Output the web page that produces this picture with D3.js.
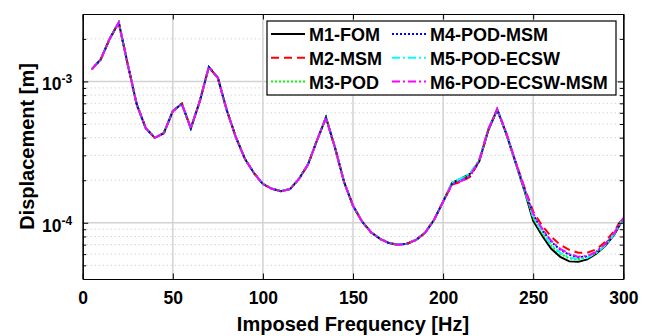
<!DOCTYPE html>
<html>
<head>
<meta charset="utf-8">
<script src="https://cdn.jsdelivr.net/npm/d3@7"></script>
<style>
body { margin: 0; background: #fff; }
svg text { font-family: "Liberation Sans", Arial, Helvetica, sans-serif; font-weight: bold; fill: #000; }
</style>
</head>
<body>
<svg id="chart" width="653" height="336"></svg>
<script>
// imposed frequency [Hz]
const freq = [5, 10, 15, 20, 25, 30, 35, 40, 45, 50,
              55, 60, 65, 70, 75, 80, 85, 90, 95, 100,
              105, 110, 115, 120, 125, 130, 135, 140, 145, 150,
              155, 160, 165, 170, 175, 180, 185, 190, 195, 200,
              205, 210, 215, 220, 225, 230, 235, 240, 245, 250,
              255, 260, 265, 270, 275, 280, 285, 290, 295, 300];

// displacement [m] for each model
const m1_fom = [1.216e-3, 1.432e-3, 2.008e-3, 2.609e-3, 1.32e-3, 6.87e-4, 4.66e-4, 3.99e-4, 4.30e-4, 6.16e-4,
                6.95e-4, 4.66e-4, 7.25e-4, 1.263e-3, 1.062e-3, 6.23e-4, 4.03e-4, 2.84e-4, 2.25e-4, 1.88e-4,
                1.74e-4, 1.67e-4, 1.73e-4, 2.04e-4, 2.58e-4, 3.82e-4, 5.55e-4, 3.40e-4, 1.95e-4, 1.32e-4,
                1.02e-4, 8.57e-5, 7.70e-5, 7.18e-5, 6.98e-5, 7.10e-5, 7.57e-5, 8.49e-5, 1.05e-4, 1.41e-4,
                1.92e-4, 2.05e-4, 2.22e-4, 2.71e-4, 4.49e-4, 6.33e-4, 4.28e-4, 2.71e-4, 1.71e-4, 1.03e-4,
                8.09e-5, 6.54e-5, 5.74e-5, 5.33e-5, 5.29e-5, 5.51e-5, 6.03e-5, 6.87e-5, 8.22e-5, 1.07e-4];
const m2_msm = [1.216e-3, 1.432e-3, 2.008e-3, 2.609e-3, 1.32e-3, 6.87e-4, 4.66e-4, 3.99e-4, 4.30e-4, 6.16e-4,
                6.95e-4, 4.66e-4, 7.25e-4, 1.263e-3, 1.062e-3, 6.23e-4, 4.03e-4, 2.84e-4, 2.25e-4, 1.88e-4,
                1.74e-4, 1.67e-4, 1.73e-4, 2.04e-4, 2.58e-4, 3.82e-4, 5.55e-4, 3.40e-4, 1.95e-4, 1.32e-4,
                1.02e-4, 8.57e-5, 7.70e-5, 7.18e-5, 6.98e-5, 7.10e-5, 7.57e-5, 8.49e-5, 1.05e-4, 1.41e-4,
                1.86e-4, 1.95e-4, 2.12e-4, 2.71e-4, 4.49e-4, 6.33e-4, 4.30e-4, 2.74e-4, 1.80e-4, 1.20e-4,
                9.53e-5, 7.96e-5, 6.98e-5, 6.44e-5, 6.13e-5, 6.13e-5, 6.49e-5, 7.33e-5, 8.77e-5, 1.10e-4];
const m3_pod = [1.216e-3, 1.432e-3, 2.008e-3, 2.609e-3, 1.32e-3, 6.87e-4, 4.66e-4, 3.99e-4, 4.30e-4, 6.16e-4,
                6.95e-4, 4.66e-4, 7.25e-4, 1.263e-3, 1.062e-3, 6.23e-4, 4.03e-4, 2.84e-4, 2.25e-4, 1.88e-4,
                1.74e-4, 1.67e-4, 1.73e-4, 2.04e-4, 2.58e-4, 3.82e-4, 5.55e-4, 3.40e-4, 1.95e-4, 1.32e-4,
                1.02e-4, 8.57e-5, 7.70e-5, 7.18e-5, 6.98e-5, 7.10e-5, 7.57e-5, 8.49e-5, 1.05e-4, 1.41e-4,
                1.92e-4, 2.05e-4, 2.22e-4, 2.72e-4, 4.50e-4, 6.33e-4, 4.29e-4, 2.72e-4, 1.73e-4, 1.08e-4,
                8.49e-5, 6.87e-5, 6.03e-5, 5.60e-5, 5.51e-5, 5.65e-5, 6.13e-5, 6.93e-5, 8.35e-5, 1.08e-4];
const m4_pod_msm = [1.216e-3, 1.432e-3, 2.008e-3, 2.609e-3, 1.32e-3, 6.87e-4, 4.66e-4, 3.99e-4, 4.30e-4, 6.16e-4,
                6.95e-4, 4.66e-4, 7.25e-4, 1.263e-3, 1.062e-3, 6.23e-4, 4.03e-4, 2.84e-4, 2.25e-4, 1.88e-4,
                1.74e-4, 1.67e-4, 1.73e-4, 2.04e-4, 2.58e-4, 3.82e-4, 5.55e-4, 3.40e-4, 1.95e-4, 1.32e-4,
                1.02e-4, 8.57e-5, 7.70e-5, 7.18e-5, 6.98e-5, 7.10e-5, 7.57e-5, 8.49e-5, 1.05e-4, 1.41e-4,
                1.88e-4, 1.98e-4, 2.15e-4, 2.72e-4, 4.50e-4, 6.33e-4, 4.30e-4, 2.74e-4, 1.76e-4, 1.14e-4,
                8.91e-5, 7.33e-5, 6.44e-5, 5.93e-5, 5.69e-5, 5.78e-5, 6.22e-5, 7.04e-5, 8.42e-5, 1.08e-4];
const m5_pod_ecsw = [1.216e-3, 1.432e-3, 2.008e-3, 2.609e-3, 1.32e-3, 6.87e-4, 4.66e-4, 3.99e-4, 4.30e-4, 6.16e-4,
                6.95e-4, 4.66e-4, 7.25e-4, 1.263e-3, 1.062e-3, 6.23e-4, 4.03e-4, 2.84e-4, 2.25e-4, 1.88e-4,
                1.74e-4, 1.67e-4, 1.73e-4, 2.04e-4, 2.58e-4, 3.82e-4, 5.55e-4, 3.40e-4, 1.95e-4, 1.32e-4,
                1.02e-4, 8.57e-5, 7.70e-5, 7.18e-5, 6.98e-5, 7.10e-5, 7.57e-5, 8.49e-5, 1.05e-4, 1.41e-4,
                1.93e-4, 2.06e-4, 2.25e-4, 2.78e-4, 4.60e-4, 6.40e-4, 4.35e-4, 2.75e-4, 1.74e-4, 1.10e-4,
                8.63e-5, 6.98e-5, 6.13e-5, 5.69e-5, 5.55e-5, 5.65e-5, 6.13e-5, 6.93e-5, 8.35e-5, 1.08e-4];
const m6_pod_ecsw_msm = [1.216e-3, 1.432e-3, 2.008e-3, 2.609e-3, 1.32e-3, 6.87e-4, 4.66e-4, 3.99e-4, 4.30e-4, 6.16e-4,
                6.95e-4, 4.66e-4, 7.25e-4, 1.263e-3, 1.062e-3, 6.23e-4, 4.03e-4, 2.84e-4, 2.25e-4, 1.88e-4,
                1.74e-4, 1.67e-4, 1.73e-4, 2.04e-4, 2.58e-4, 3.82e-4, 5.55e-4, 3.40e-4, 1.95e-4, 1.32e-4,
                1.02e-4, 8.57e-5, 7.70e-5, 7.18e-5, 6.98e-5, 7.10e-5, 7.57e-5, 8.49e-5, 1.05e-4, 1.41e-4,
                1.88e-4, 1.97e-4, 2.16e-4, 2.76e-4, 4.58e-4, 6.40e-4, 4.36e-4, 2.76e-4, 1.77e-4, 1.16e-4,
                9.06e-5, 7.45e-5, 6.54e-5, 6.03e-5, 5.74e-5, 5.83e-5, 6.22e-5, 7.10e-5, 8.49e-5, 1.08e-4];

const seriesNames = ['M1-FOM', 'M2-MSM', 'M3-POD', 'M4-POD-MSM', 'M5-POD-ECSW', 'M6-POD-ECSW-MSM'];
const seriesValues = [m1_fom, m2_msm, m3_pod, m4_pod_msm, m5_pod_ecsw, m6_pod_ecsw_msm];

const xTicks = [0, 50, 100, 150, 200, 250, 300];
const yMajor = [1e-4, 1e-3];
const yMajorExp = ['-4', '-3'];
const yMinor = [5e-5, 6e-5, 7e-5, 8e-5, 9e-5, 2e-4, 3e-4, 4e-4, 5e-4, 6e-4, 7e-4, 8e-4, 9e-4, 2e-3];

// line styles
const colors = ['#000000', '#ff0000', '#00ff00', '#0000ff', '#00ffff', '#ff00ff'];
const dashes = [null, '8,5', '2,2', '2,2', '8,3,2,3', '8,3,2,3'];

let svg = d3.select('#chart');
let pLeft = 82.7, pRight = 623.3, pTop = 14, pBottom = 279;

let xScale = d3.scaleLinear().domain([0, 300]).range([pLeft, pRight]);
let yScale = d3.scaleLog().domain([4e-5, 3e-3]).range([pBottom, pTop]);

// grid
let grid = svg.append('g');
grid.selectAll('.ymin')
    .data(yMinor)
    .enter()
    .append('line')
    .attr('x1', pLeft).attr('x2', pRight)
    .attr('y1', d => yScale(d)).attr('y2', d => yScale(d))
    .style('stroke', '#c4c4c4')
    .style('stroke-width', 1)
    .style('stroke-dasharray', '1,3');
grid.selectAll('.xmaj')
    .data(xTicks.slice(1, -1))
    .enter()
    .append('line')
    .attr('x1', d => xScale(d)).attr('x2', d => xScale(d))
    .attr('y1', pTop).attr('y2', pBottom)
    .style('stroke', '#d2d2d2')
    .style('stroke-width', 1.5);
grid.selectAll('.ymaj')
    .data(yMajor)
    .enter()
    .append('line')
    .attr('x1', pLeft).attr('x2', pRight)
    .attr('y1', d => yScale(d)).attr('y2', d => yScale(d))
    .style('stroke', '#d2d2d2')
    .style('stroke-width', 1.5);

// curves
let line = d3.line()
    .x((d, i) => xScale(freq[i]))
    .y(d => yScale(d));

svg.append('g').selectAll('path')
    .data(seriesValues)
    .enter()
    .append('path')
    .attr('d', d => line(d))
    .style('fill', 'none')
    .style('stroke', (d, i) => colors[i])
    .style('stroke-width', 2)
    .style('stroke-dasharray', (d, i) => dashes[i]);

// axes (box with inward ticks)
function styleAxis(g) {
    g.selectAll('.domain').style('stroke', '#000').style('stroke-width', 1.2);
    g.selectAll('.tick line').style('stroke', '#000').style('stroke-width', 1);
}

let xAxis = svg.append('g')
    .attr('transform', `translate(0, ${pBottom})`)
    .call(d3.axisBottom(xScale).tickValues(xTicks).tickSizeInner(-5.5).tickSizeOuter(0).tickPadding(13));
xAxis.selectAll('.tick text').style('font-size', '17.5px');
styleAxis(xAxis);

let xTop = svg.append('g')
    .attr('transform', `translate(0, ${pTop})`)
    .call(d3.axisTop(xScale).tickValues(xTicks).tickSizeInner(-5.5).tickSizeOuter(0).tickFormat(''));
styleAxis(xTop);

let yAxis = svg.append('g')
    .attr('transform', `translate(${pLeft}, 0)`)
    .call(d3.axisLeft(yScale).tickValues(yMajor).tickSizeInner(-5.5).tickSizeOuter(0).tickFormat(''));
styleAxis(yAxis);
let yLab = yAxis.selectAll('.tick')
    .append('text')
    .attr('x', -10.5)
    .attr('y', 8.5)
    .style('text-anchor', 'end')
    .style('font-size', '17.5px')
    .text('10');
yLab.append('tspan')
    .attr('dy', -7)
    .style('font-size', '12px')
    .text((d, i) => yMajorExp[i]);

svg.append('g')
    .attr('transform', `translate(${pLeft}, 0)`)
    .call(d3.axisLeft(yScale).tickValues(yMinor).tickSizeInner(-3.5).tickSizeOuter(0).tickFormat(''))
    .call(styleAxis);

svg.append('g')
    .attr('transform', `translate(${pRight}, 0)`)
    .call(d3.axisRight(yScale).tickValues(yMajor).tickSizeInner(-5.5).tickSizeOuter(0).tickFormat(''))
    .call(styleAxis);
svg.append('g')
    .attr('transform', `translate(${pRight}, 0)`)
    .call(d3.axisRight(yScale).tickValues(yMinor).tickSizeInner(-3.5).tickSizeOuter(0).tickFormat(''))
    .call(styleAxis);

// axis labels
svg.append('text')
    .attr('x', xScale(150))
    .attr('y', 330.5)
    .style('text-anchor', 'middle')
    .style('font-size', '20px')
    .text('Imposed Frequency [Hz]');

svg.append('text')
    .attr('transform', `translate(33.5, ${(pTop + pBottom) / 2}) rotate(-90)`)
    .style('text-anchor', 'middle')
    .style('font-size', '20px')
    .text('Displacement [m]');

// legend
let legend = svg.append('g');
legend.append('rect')
    .attr('x', 267).attr('y', 21)
    .attr('width', 349).attr('height', 74)
    .style('fill', '#fff')
    .style('stroke', '#000')
    .style('stroke-width', 1.2);

let items = legend.selectAll('.item')
    .data(seriesNames)
    .enter()
    .append('g')
    .attr('class', 'item')
    .attr('transform', (d, i) => `translate(${i < 3 ? 271 : 392}, ${34 + (i % 3) * 23.8})`);
items.append('line')
    .attr('x1', 0).attr('x2', 34)
    .style('stroke', (d, i) => colors[i])
    .style('stroke-width', 2)
    .style('stroke-dasharray', (d, i) => dashes[i]);
items.append('text')
    .attr('x', 38)
    .attr('y', 7)
    .style('font-size', '18px')
    .text(d => d);
</script>
</body>
</html>
